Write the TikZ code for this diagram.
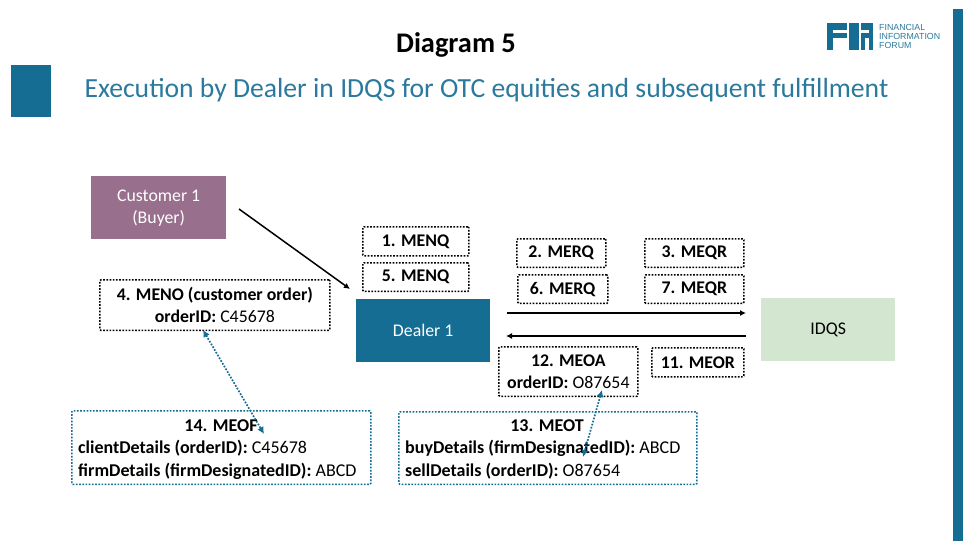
\documentclass[tikz,border=0pt]{standalone}
\usepackage{fontspec}
\setmainfont{Carlito}
\newfontfamily\logofont{Liberation Sans}
\usetikzlibrary{arrows.meta}
\definecolor{finblue}{HTML}{156D94}
\definecolor{titleblue}{HTML}{2B7A9E}
\definecolor{plum}{HTML}{996F8E}
\definecolor{palegreen}{HTML}{D3E6D0}
\newcommand{\lowered}[1]{\raisebox{-1.5pt}{#1}}
\tikzset{
  x=1pt,y=-1pt,
  solidbox/.style={inner sep=0pt,anchor=north west,align=center,font=\fontsize{17.8}{22}\selectfont},
  msgbox/.style={draw=black,line width=1.7pt,dash pattern=on 1.7pt off 1.5pt,rounded corners=1pt,inner sep=0pt,anchor=north west,align=center,font=\fontsize{17.8}{22.5}\selectfont},
  databox/.style={draw=finblue,line width=1.7pt,dash pattern=on 1.7pt off 1.5pt,rounded corners=1pt,inner sep=0pt,anchor=north west},
  datatext/.style={inner sep=0pt,font=\fontsize{18}{23}\selectfont},
  flow/.style={draw=black,line width=1.5pt,-{Latex[length=6pt,width=6pt]}},
  link/.style={draw=finblue,line width=1.7pt,dash pattern=on 1.7pt off 1.5pt,{Latex[length=7pt,width=7pt,fill=finblue]}-{Latex[length=7pt,width=7pt,fill=finblue]}},
}
\begin{document}
\begin{tikzpicture}
\useasboundingbox (0,0) rectangle (963,541);
\fill[white] (0,0) rectangle (963,541);
% decoration
\fill[finblue] (953,9) rectangle (963,541);
\fill[finblue] (11,65) rectangle (51,117);
% titles
\node[font=\bfseries\fontsize{28.4}{32}\selectfont] (title) at (456,44.5) {Diagram 5};
\node[font=\fontsize{27.65}{32}\selectfont,text=titleblue] (subtitle) at (486.5,90.5) {Execution by Dealer in IDQS for OTC equities and subsequent fulfillment};
% logo
\fill[finblue] (827,23) rectangle (847,50);
\fill[finblue] (849,23) rectangle (859,50);
\fill[finblue] (861,23) rectangle (873,50);
\fill[white] (833,29.5) rectangle (847,33);
\fill[white] (833,38) rectangle (847,50);
\fill[white] (865,38) rectangle (869,50);
\fill[white] (861,29.5) rectangle (869,33);
\node[font=\logofont\fontsize{8.8}{8.9}\selectfont,text=titleblue,align=left,anchor=west,inner sep=0pt] (logotext) at (879,36.5) {FINANCIAL\\INFORMATION\\FORUM};
% actors
\node[solidbox,fill=plum,text=white,minimum width=135pt,minimum height=63pt] (customer) at (91,176) {\lowered{Customer 1}\\\lowered{(Buyer)}};
\node[solidbox,fill=finblue,text=white,minimum width=134pt,minimum height=63pt] (dealer) at (356,299) {\lowered{Dealer 1}};
\node[solidbox,fill=palegreen,text=black,minimum width=134pt,minimum height=63pt] (idqs) at (761,298) {\lowered{IDQS}};
% messages
\node[msgbox,minimum width=106pt,minimum height=29pt] (m1) at (362,226) {\lowered{\textbf{1. MENQ}}};
\node[msgbox,minimum width=106pt,minimum height=28.5pt] (m5) at (362,262) {\lowered{\textbf{5. MENQ}}};
\node[msgbox,minimum width=89pt,minimum height=28.5pt] (m2) at (516,238) {\textbf{2. MERQ}};
\node[msgbox,minimum width=99pt,minimum height=28.5pt] (m3) at (644,238) {\textbf{3. MEQR}};
\node[msgbox,minimum width=90pt,minimum height=28.5pt] (m6) at (517,274) {\textbf{6. MERQ}};
\node[msgbox,minimum width=99pt,minimum height=28.5pt] (m7) at (644,274) {\textbf{7. MEQR}};
\node[msgbox,minimum width=139pt,minimum height=49.5pt] (m12) at (498,346) {\textbf{12. MEOA}\\\textbf{orderID:} O87654};
\node[msgbox,minimum width=92pt,minimum height=29pt] (m11) at (651,347) {\textbf{11. MEOR}};
\node[msgbox,minimum width=230pt,minimum height=50.5pt] (m4) at (99,279) {\textbf{4. MENO (customer order)}\\\textbf{orderID:} C45678};
% data boxes
\node[databox,minimum width=299pt,minimum height=73.5pt] (m14) at (71,410) {};
\node[datatext,anchor=north,font=\bfseries\fontsize{18}{23}\selectfont] (m14h) at (221,419) {14. MEOF};
\node[datatext,anchor=north west,align=left] (m14t) at (78,440) {\textbf{clientDetails (orderID):} C45678\\\textbf{firmDetails (firmDesignatedID):} ABCD};
\node[databox,minimum width=298pt,minimum height=72.5pt] (m13) at (398,411) {};
\node[datatext,anchor=north,font=\bfseries\fontsize{18}{23}\selectfont] (m13h) at (547,419) {13. MEOT};
\node[datatext,anchor=north west,align=left] (m13t) at (405,440) {\textbf{buyDetails (firmDesignatedID):} ABCD\\\textbf{sellDetails (orderID):} O87654};
% free connector ends
\coordinate (cOut) at (239,209);
\coordinate (dIn) at (350,289);
\coordinate (dOut) at (507,313);
\coordinate (qIn) at (746,313);
\coordinate (qOut) at (746,336);
\coordinate (dBack) at (506,336);
\coordinate (m4end) at (203,330);
\coordinate (m14end) at (264,434);
\coordinate (m12end) at (602,390);
\coordinate (m13end) at (583,457);
% connectors
\draw[flow] (cOut) -- (dIn);
\draw[flow] (dOut) -- (qIn);
\draw[flow,line width=1.9pt] (qOut) -- (dBack);
\draw[link] (m4end) -- (m14end);
\draw[link] (m12end) -- (m13end);
\end{tikzpicture}
\end{document}
